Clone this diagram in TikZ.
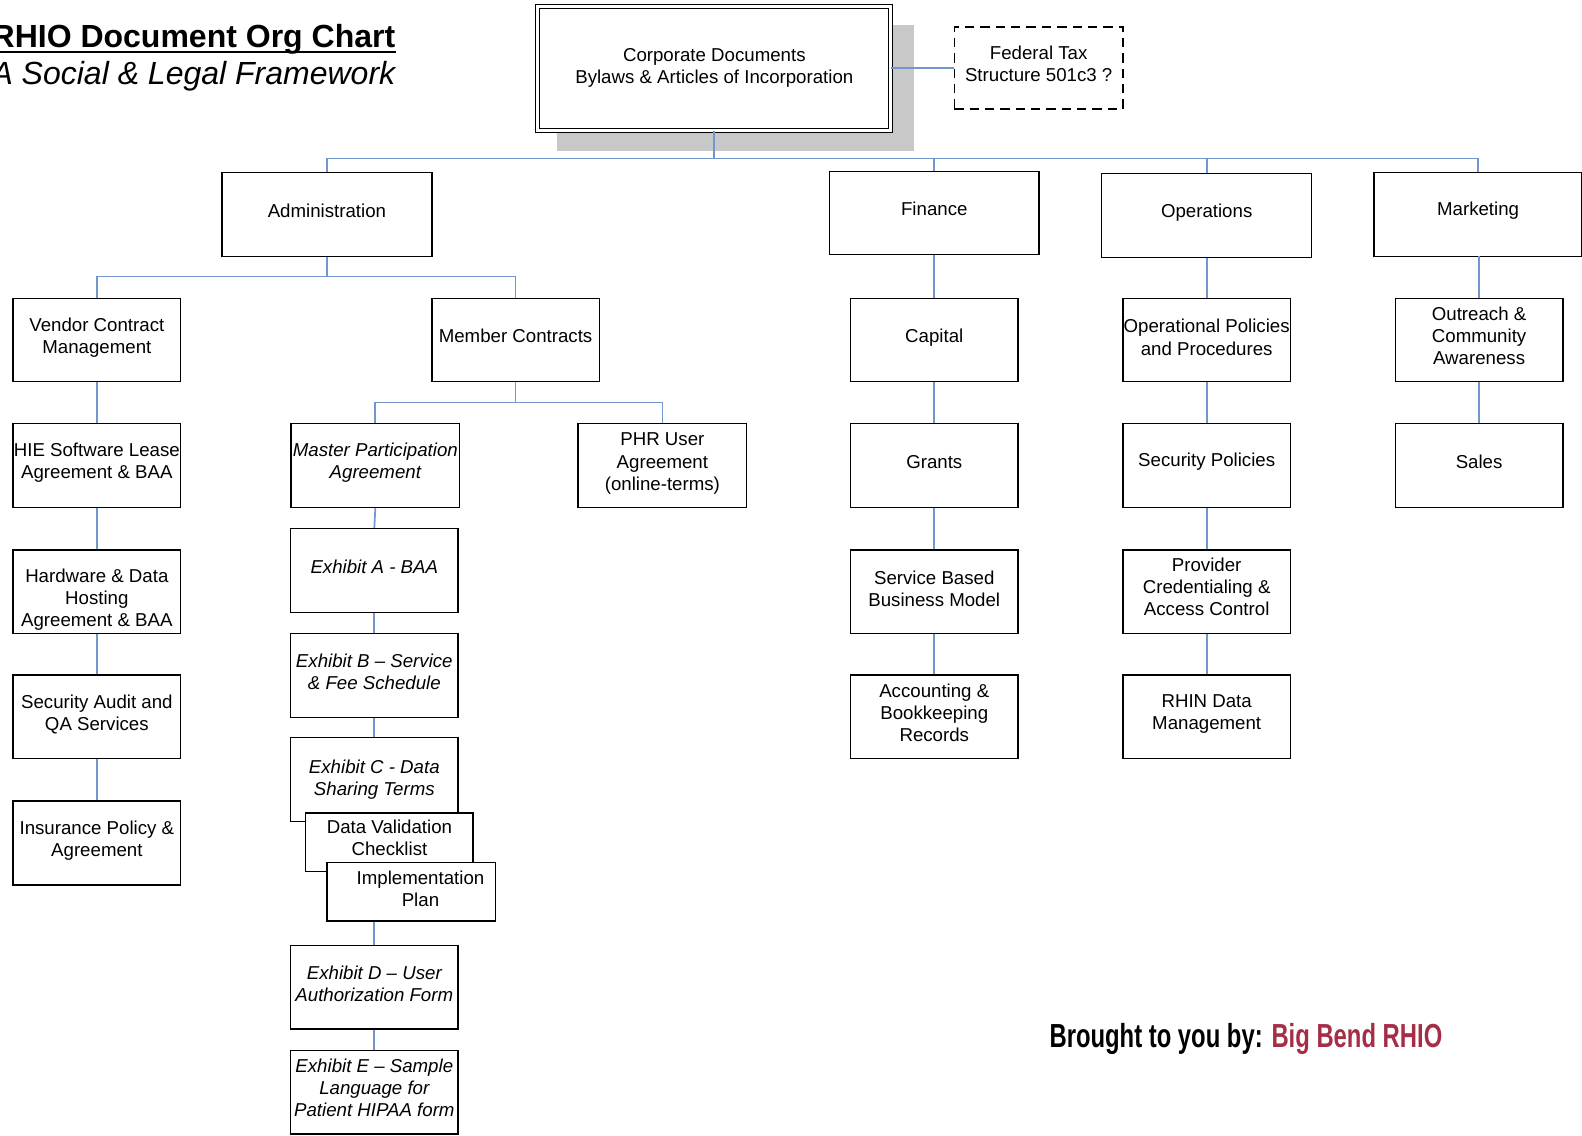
\documentclass[tikz,border=0pt]{standalone}
\usepackage{fontspec}
\setmainfont{Liberation Sans}
\definecolor{connc}{RGB}{115,150,205}
\definecolor{shadowc}{RGB}{200,200,200}
\definecolor{bbred}{RGB}{165,45,70}
\newcommand\boxtext[3]{\node[txt] (#1-t) at ([yshift=#2]#1.center) {#3};}
\begin{document}
\begin{tikzpicture}[x=0.7567pt,y=-0.7567pt,
  box/.style={draw=black,line width=1.1pt,fill=white,inner sep=0pt},
  txt/.style={align=center,inner sep=0pt,font=\fontsize{14}{16.6}\selectfont},
  sz/.style 2 args={minimum width=#1*0.7567pt,minimum height=#2*0.7567pt},
  conn/.style={draw=connc,line width=1.3pt}]
\useasboundingbox (0,0) rectangle (1568,1125);

% title
\node[anchor=base east,inner sep=0pt,font=\fontsize{24}{28}\selectfont\bfseries] (title) at (392,47) {RHIO Document Org Chart};
\draw[line width=1.6pt] ([yshift=-3.5pt]title.base west) -- ([yshift=-3.5pt]title.base east);
\node[anchor=base east,inner sep=0pt,font=\fontsize{24}{28}\selectfont\itshape] (subtitle) at (392,84) {A Social \& Legal Framework};

% corporate
\fill[shadowc] (552,25) rectangle (906,150);
\node[draw=black,line width=0.8pt,double=white,double distance=2.2pt,fill=white,sz={350}{123},inner sep=0pt] (corp) at (708,67.5) {};
\boxtext{corp}{0pt}{Corporate Documents\\Bylaws \& Articles of Incorporation}
\node[box,dashed,dash pattern=on 7pt off 4.5pt,line width=1.3pt,sz={167}{81}] (fed) at (1029.5,67.5) {};
\boxtext{fed}{3.5pt}{Federal Tax\\Structure 501c3 ?}

% level 1
\node[box,sz={208}{83}] (adm) at (324,212.5) {};
\node[box,sz={208}{82}] (fin) at (926,211) {};
\node[box,sz={208}{83}] (ops) at (1196,213.5) {};
\node[box,sz={206}{83}] (mkt) at (1465,212.5) {};
\boxtext{adm}{3pt}{Administration}
\boxtext{fin}{3pt}{Finance}
\boxtext{ops}{2pt}{Operations}
\boxtext{mkt}{3pt}{Marketing}

% level 2
\node[box,sz={166}{82}] (ven) at (96,337) {};
\node[box,sz={166}{82}] (mem) at (511,337) {};
\node[box,sz={166}{82}] (cap) at (926,337) {};
\node[box,sz={166}{82}] (opp) at (1196,337) {};
\node[box,sz={166}{82}] (out) at (1466,337) {};
\boxtext{ven}{1.5pt}{Vendor Contract\\Management}
\boxtext{mem}{3pt}{Member Contracts}
\boxtext{cap}{2pt}{Capital}
\boxtext{opp}{2pt}{Operational Policies\\and Procedures}
\boxtext{out}{3pt}{Outreach \&\\Community\\Awareness}

% level 3
\node[box,sz={166}{83}] (hie) at (96,461.5) {};
\node[box,sz={167}{83}] (mpa) at (372,461.5) {};
\node[box,sz={167}{83}] (phr) at (656.5,461.5) {};
\node[box,sz={166}{83}] (gra) at (926,461.5) {};
\node[box,sz={166}{83}] (sec) at (1196,461.5) {};
\node[box,sz={166}{83}] (sal) at (1466,461.5) {};
\boxtext{hie}{2pt}{HIE Software Lease\\Agreement \& BAA}
\boxtext{mpa}{2pt}{\itshape Master Participation\\\itshape Agreement}
\boxtext{phr}{1.5pt}{PHR User\\Agreement\\(online-terms)}
\boxtext{gra}{3pt}{Grants}
\boxtext{sec}{3pt}{Security Policies}
\boxtext{sal}{3pt}{Sales}

% vendor column
\node[box,sz={166}{83}] (hw) at (96,586.5) {};
\node[box,sz={166}{83}] (sa) at (96,710.5) {};
\node[box,sz={166}{83}] (ins) at (96,835.5) {};
\boxtext{hw}{-6pt}{Hardware \& Data\\Hosting\\Agreement \& BAA}
\boxtext{sa}{2pt}{Security Audit and\\QA Services}
\boxtext{ins}{2pt}{Insurance Policy \&\\Agreement}

% member column
\node[box,sz={166}{83}] (exa) at (371,565.5) {};
\node[box,sz={166}{83}] (exb) at (371,669.5) {};
\node[box,sz={166}{83}] (exc) at (371,772.5) {};
\boxtext{exa}{3pt}{\itshape Exhibit A - BAA}
\boxtext{exb}{2.5pt}{\itshape Exhibit B -- Service\\\itshape \& Fee Schedule}
\boxtext{exc}{0pt}{\itshape Exhibit C - Data\\\itshape Sharing Terms}
\node[box,sz={166}{58}] (dvc) at (386,835) {};
\boxtext{dvc}{3.5pt}{Data Validation\\Checklist}
\node[box,sz={167}{58}] (imp) at (407.5,884) {};
\boxtext{imp}{2.5pt}{\hspace*{14pt}Implementation\\\hspace*{14pt}Plan}
\node[box,sz={166}{83}] (exd) at (371,978.5) {};
\node[box,sz={166}{83}] (exe) at (371,1082.5) {};
\boxtext{exd}{2.5pt}{\itshape Exhibit D -- User\\\itshape Authorization Form}
\boxtext{exe}{3.5pt}{\itshape Exhibit E -- Sample\\\itshape Language for\\\itshape Patient HIPAA form}

% finance / operations columns
\node[box,sz={166}{83}] (sbm) at (926,586.5) {};
\node[box,sz={166}{83}] (acc) at (926,710.5) {};
\node[box,sz={166}{83}] (pro) at (1196,586.5) {};
\node[box,sz={166}{83}] (rhin) at (1196,710.5) {};
\boxtext{sbm}{2pt}{Service Based\\Business Model}
\boxtext{acc}{3pt}{Accounting \&\\Bookkeeping\\Records}
\boxtext{pro}{3.5pt}{Provider\\Credentialing \&\\Access Control}
\boxtext{rhin}{2pt}{RHIN Data\\Management}

% connectors
\coordinate (b1) at (0,157);
\coordinate (b2) at (0,274);
\coordinate (b3) at (0,399);
\draw[conn] (corp.east) -- (fed.west);
\draw[conn] (corp.south) -- (corp.south |- b1);
\draw[conn] (adm.north) -- (adm.north |- b1) -- (mkt.north |- b1) -- (mkt.north);
\draw[conn] (fin.north) -- (fin.north |- b1);
\draw[conn] (ops.north) -- (ops.north |- b1);

\draw[conn] (adm.south) -- (adm.south |- b2);
\draw[conn] (ven.north) -- (ven.north |- b2) -- (mem.north |- b2) -- (mem.north);
\draw[conn] (mem.south) -- (mem.south |- b3);
\draw[conn] (mpa.north) -- (mpa.north |- b3) -- (phr.north |- b3) -- (phr.north);

\draw[conn] (ven) -- (hie);
\draw[conn] (hie) -- (hw);
\draw[conn] (hw) -- (sa);
\draw[conn] (sa) -- (ins);

\draw[conn] (mpa.south) -- (exa.north);
\draw[conn] (exa) -- (exb);
\draw[conn] (exb) -- (exc);
\draw[conn] (exd.north |- imp.south) -- (exd.north);
\draw[conn] (exd) -- (exe);

\draw[conn] (fin) -- (cap);
\draw[conn] (cap) -- (gra);
\draw[conn] (gra) -- (sbm);
\draw[conn] (sbm) -- (acc);

\draw[conn] (ops) -- (opp);
\draw[conn] (opp) -- (sec);
\draw[conn] (sec) -- (pro);
\draw[conn] (pro) -- (rhin);

\draw[conn] (mkt.south) -- (mkt.south -| out.north) -- (out.north);
\draw[conn] (out) -- (sal);

% credit
\node[anchor=base west,inner sep=0pt,font=\fontsize{25}{30}\selectfont\bfseries] (credit) at (1040,1038)
  {\scalebox{0.715}[1]{Brought to you by: \textcolor{bbred}{Big Bend RHIO}}};
\end{tikzpicture}
\end{document}
